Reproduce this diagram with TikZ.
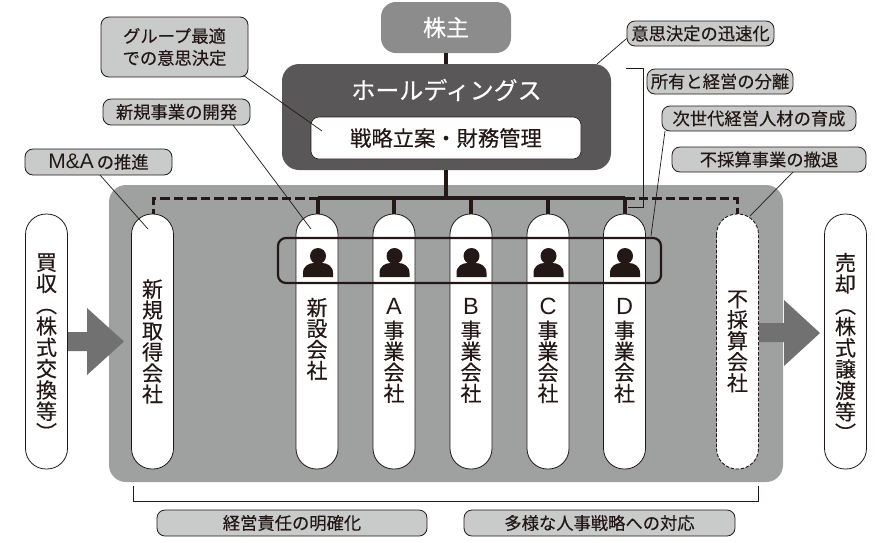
\documentclass[tikz,border=0pt]{standalone}
\usepackage{fontspec}
\setmainfont{Noto Sans CJK JP}
\newfontfamily\cjk[FakeBold=0.3]{Noto Sans CJK JP}
\newfontfamily\cjkv[RawFeature=+vert,FakeBold=0.3]{Noto Sans CJK JP}
\newfontfamily\latn{Liberation Sans}
\newcommand{\capletter}[1]{{\latn\fontsize{23.5}{21}\selectfont #1}}
\definecolor{ink}{HTML}{231815}
\definecolor{panel}{HTML}{9FA0A0}
\definecolor{tag}{HTML}{C9CACA}
\definecolor{top}{HTML}{8C8C8C}
\definecolor{hold}{HTML}{595757}
\definecolor{arrowc}{HTML}{727171}
\tikzset{
  x=1pt,y=-1pt,
  callout/.style={draw=ink,line width=.8pt,fill=tag,rounded corners=8pt,text=ink,inner sep=0pt,align=center,font=\cjk\fontsize{17.3}{22}\selectfont},
  pill/.style={draw=ink,line width=.8pt,fill=white,rounded corners=20.5pt,minimum width=42pt,minimum height=255pt,inner sep=0pt},
  vtext/.style={text=ink,align=center,inner sep=0pt,font=\cjkv\fontsize{21}{21}\selectfont},
  vwide/.style={text=ink,align=center,inner sep=0pt,font=\cjkv\fontsize{21}{21.3}\selectfont},
  leader/.style={draw=ink,line width=.7pt},
  bus/.style={draw=ink,line width=3.4pt},
  busdash/.style={draw=ink,line width=3pt,dash pattern=on 9.5pt off 4pt},
  personfill/.style={fill=ink,draw=none},
  flow/.style={fill=arrowc,draw=none},
}
\newcommand{\person}[1]{%
  \fill[personfill] (#1,256) circle (8);
  \fill[personfill] (#1-15,277) -- (#1-15,273) .. controls (#1-15,266) and (#1-9,263) .. (#1-4,263) -- (#1+4,263) .. controls (#1+9,263) and (#1+15,266) .. (#1+15,273) -- (#1+15,277) -- cycle;
}
\begin{document}
\begin{tikzpicture}
\useasboundingbox (0,0) rectangle (890,542);
% main panel
\fill[panel,rounded corners=17pt] (109,185) rectangle (783,482);
% shareholders and holding company
\node[fill=top,rounded corners=15pt,minimum width=130pt,minimum height=51pt,inner sep=0pt,text=white,font=\cjk\fontsize{23}{24}\selectfont] (sh) at (446,27.5) {株主};
\node[fill=hold,rounded corners=17pt,minimum width=329pt,minimum height=106pt,inner sep=0pt] (hd) at (446.5,117) {};
\node[text=white,inner sep=0pt,font=\cjk\fontsize{24}{26}\selectfont] (hdt) at (446.5,90) {ホールディングス};
\node[fill=white,draw=ink,line width=.6pt,rounded corners=8pt,minimum width=270pt,minimum height=42pt,inner sep=0pt,text=ink,font=\cjk\fontsize{21.3}{24}\selectfont] (st) at (446,138) {戦略立案・財務管理};
% pills
\node[pill] (buy)  at (46.5,341.5) {};
\node[pill] (newa) at (152.5,341.5) {};
\node[pill] (newb) at (317,341.5) {};
\node[pill] (ca)   at (394,341.5) {};
\node[pill] (cb)   at (471,341.5) {};
\node[pill] (cc)   at (548,341.5) {};
\node[pill] (cd)   at (624.5,341.5) {};
\node[pill,draw=none] (cx) at (737.5,341.5) {};
\draw[draw=ink,line width=.9pt,dash pattern=on 3.5pt off 1.6pt,rounded corners=20.5pt] (716.5,214) rectangle (758.5,469);
\node[pill] (sell) at (845.5,341.5) {};
% bus
\coordinate (busl) at (318,198);
\coordinate (busr) at (625,198);
\coordinate (dl) at (153,198);
\coordinate (dr) at (737,198);
\draw[bus] (446,53) -- (446,64);
\draw[bus] (446,170) -- (446,198);
\draw[bus] (busl) -- (busr);
\draw[bus] (busl) -- (newb.north -| busl);
\draw[bus] (394,198) -- (ca.north);
\draw[bus] (471,198) -- (cb.north);
\draw[bus] (548,198) -- (cc.north);
\draw[bus] (busr) -- (cd.north -| busr);
\draw[busdash] (busl) -- (dl) -- (newa.north -| dl);
\draw[busdash] (busr) -- (dr) -- (cx.north -| dr);
% persons and their frame
\person{318}\person{394.5}\person{471.5}\person{548.5}\person{625}
\draw[draw=ink,line width=2.2pt,rounded corners=8pt] (278,238) rectangle (661,283);
% pill labels
\node[vwide] at (46.5,347) {買\\収\\（\\株\\式\\交\\換\\等\\）};
\node[vwide] at (845.5,347) {売\\却\\（\\株\\式\\譲\\渡\\等\\）};
\node[vtext] at (152.5,341.5) {新\\規\\取\\得\\会\\社};
\node[vtext] at (317,339) {新\\設\\会\\社};
\node[vtext] at (394,350.5) {\capletter{A}\\[3pt]事\\業\\会\\社};
\node[vtext] at (471,350.5) {\capletter{B}\\[3pt]事\\業\\会\\社};
\node[vtext] at (548,350.5) {\capletter{C}\\[3pt]事\\業\\会\\社};
\node[vtext] at (624.5,350.5) {\capletter{D}\\[3pt]事\\業\\会\\社};
\node[vtext] at (737.5,341.5) {不\\採\\算\\会\\社};
% arrows
\fill[flow] (68,332) -- (87,332) -- (87,308) -- (124,341.5) -- (87,375) -- (87,351) -- (68,351) -- cycle;
\fill[flow] (759,323) -- (784,323) -- (784,300) -- (820,333) -- (784,366) -- (784,342) -- (759,342) -- cycle;
% callouts
\node[callout,minimum width=147pt,minimum height=60pt] (c1) at (174.5,47) {グループ最適\\での意思決定};
\node[callout,minimum width=147pt,minimum height=26pt] (c2) at (176.5,112) {新規事業の開発};
\node[callout,minimum width=147pt,minimum height=26pt] (c3) at (98.5,162) {{\latn\fontsize{21}{22}\selectfont M\&A}\,の推進};
\node[callout,minimum width=147pt,minimum height=25pt] (c4) at (700.5,33.5) {意思決定の迅速化};
\node[callout,minimum width=146pt,minimum height=25pt] (c5) at (720,81.5) {所有と経営の分離};
\node[callout,minimum width=194pt,minimum height=25pt] (c6) at (759,118.5) {次世代経営人材の育成};
\node[callout,minimum width=194pt,minimum height=25pt] (c7) at (769,159.5) {不採算事業の撤退};
\node[callout,minimum width=270pt,minimum height=26pt] (c8) at (292,523) {経営責任の明確化};
\node[callout,minimum width=271pt,minimum height=26pt] (c9) at (599.5,523) {多様な人事戦略への対応};
% leaders
\coordinate (l1) at (322,131);
\coordinate (l2) at (311,229);
\coordinate (l3) at (148,229);
\coordinate (l4) at (597,64);
\coordinate (l6) at (651,236);
\coordinate (l7) at (750,216);
\draw[leader] (c1.south east) ++(-5,-2) -- (l1);
\draw[leader] (233,125) -- (l2);
\draw[leader] (100,175) -- (l3);
\draw[leader] (c4.west) ++(0,5) -- (l4);
\draw[leader] (665,131) -- (l6);
\draw[leader] (793,172) -- (l7);
\draw[leader] (626,68) -- (643,68) -- (643,207) -- (628,207);
\draw[leader] (133,486) -- (133,501) -- (758,501) -- (758,486);
\end{tikzpicture}
\end{document}
